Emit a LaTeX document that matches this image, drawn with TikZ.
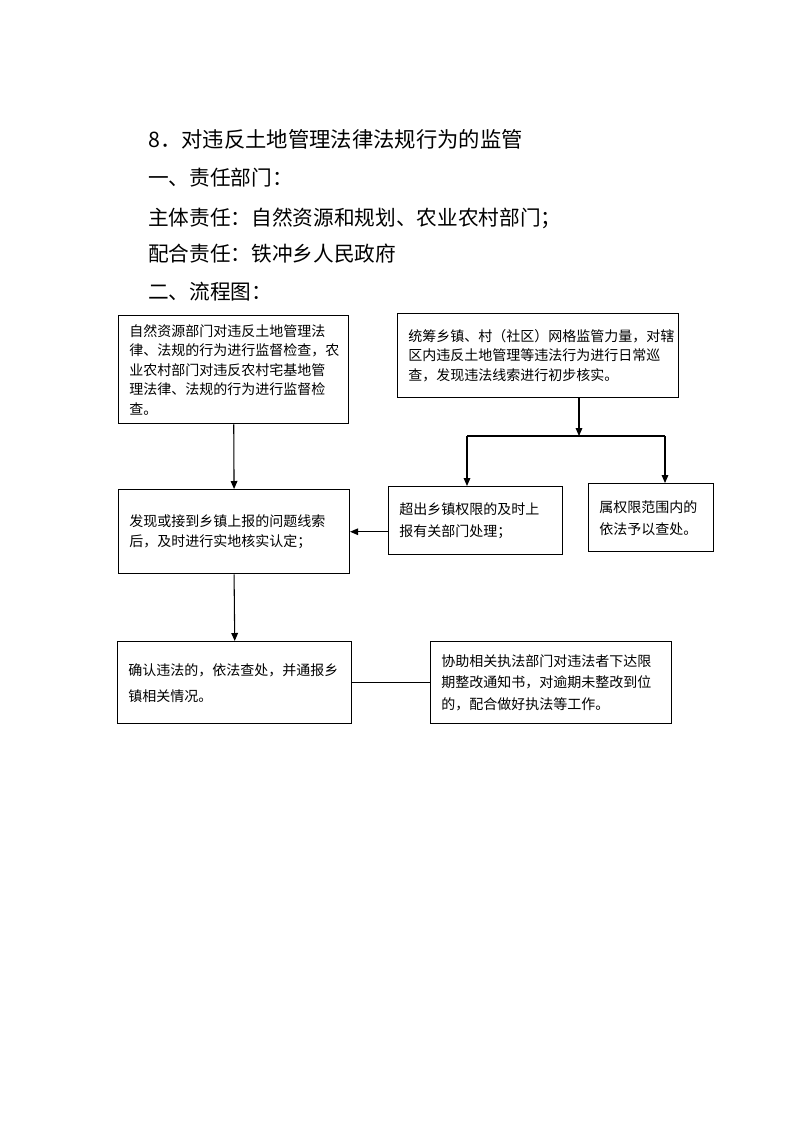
\documentclass[tikz,border=0pt]{standalone}
\usepackage{fontspec}
\setmainfont{Noto Sans CJK SC}
\usepackage{tikz}
\usetikzlibrary{arrows.meta}
\tikzset{
  ar/.style={-{Triangle[length=6pt,width=5pt]},line width=0.8pt},
  ln/.style={line width=0.8pt},
  box/.style={draw,line width=1.1pt,anchor=north west,align=left,inner xsep=8pt,inner ysep=4pt,font=\fontsize{10.5}{14.6}\selectfont},
  hd/.style={anchor=west,inner sep=0pt,font=\fontsize{15.5}{18}\selectfont}
}

\begin{document}
\begin{tikzpicture}[x=0.75pt,y=-0.75pt]
\useasboundingbox (0,0) rectangle (793,1122);
% heading lines
\node[hd,font=\fontsize{16}{19}\selectfont] (ttl) at (148,139) {8．对违反土地管理法律法规行为的监管};
\node[hd] (dept) at (148,178) {一、责任部门：};
\node[hd] (main) at (148,218) {主体责任：自然资源和规划、农业农村部门；};
\node[hd] (coop) at (148,254) {配合责任：铁冲乡人民政府};
\node[hd] (flow) at (148,292) {二、流程图：};
% boxes
\node[box,text width=156.5pt,minimum height=81pt] (adm) at (118,315) {自然资源部门对违反土地管理法\\律、法规的行为进行监督检查，农\\业农村部门对违反农村宅基地管\\理法律、法规的行为进行监督检\\查。};
\node[box,text width=157pt,minimum height=63pt] (fnd) at (118,489) {发现或接到乡镇上报的问题线索\\后，及时进行实地核实认定；};
\node[box,text width=194.75pt,minimum height=63pt] (grid) at (397,313) {统筹乡镇、村（社区）网格监管力量，对辖\\区内违反土地管理等违法行为进行日常巡\\查，发现违法线索进行初步核实。};
\node[box,text width=114.5pt,minimum height=51pt,font=\fontsize{10.5}{17}\selectfont] (up) at (388,486) {超出乡镇权限的及时上\\报有关部门处理；};
\node[box,text width=77.75pt,minimum height=51pt,font=\fontsize{10.5}{16.5}\selectfont] (own) at (588,483) {属权限范围内的\\依法予以查处。};
\node[box,text width=159.5pt,minimum height=61.5pt,font=\fontsize{10.5}{19.5}\selectfont] (conf) at (117,641) {确认违法的，依法查处，并通报乡\\镇相关情况。};
\node[box,text width=164.75pt,minimum height=61.5pt,font=\fontsize{10.5}{16}\selectfont] (assist) at (430,641) {协助相关执法部门对违法者下达限\\期整改通知书，对逾期未整改到位\\的，配合做好执法等工作。};
% connectors
\coordinate (split) at (579,436);
\coordinate (brl) at (467,436);
\coordinate (brr) at (665,436);
\draw[ar] (adm.south) -- (fnd.north);
\draw[ar] (grid.south -| split) -- (split);
\draw[ln] (brl) -- (brr);
\draw[ar] (brl) -- (brl |- up.north);
\draw[ar] (brr) -- (brr |- own.north);
\draw[ar] (up.west |- fnd.east) -- (fnd.east);
\draw[ar] (fnd.south) -- (conf.north);
\draw[ln] (conf.east) -- (assist.west);
\end{tikzpicture}
\end{document}
